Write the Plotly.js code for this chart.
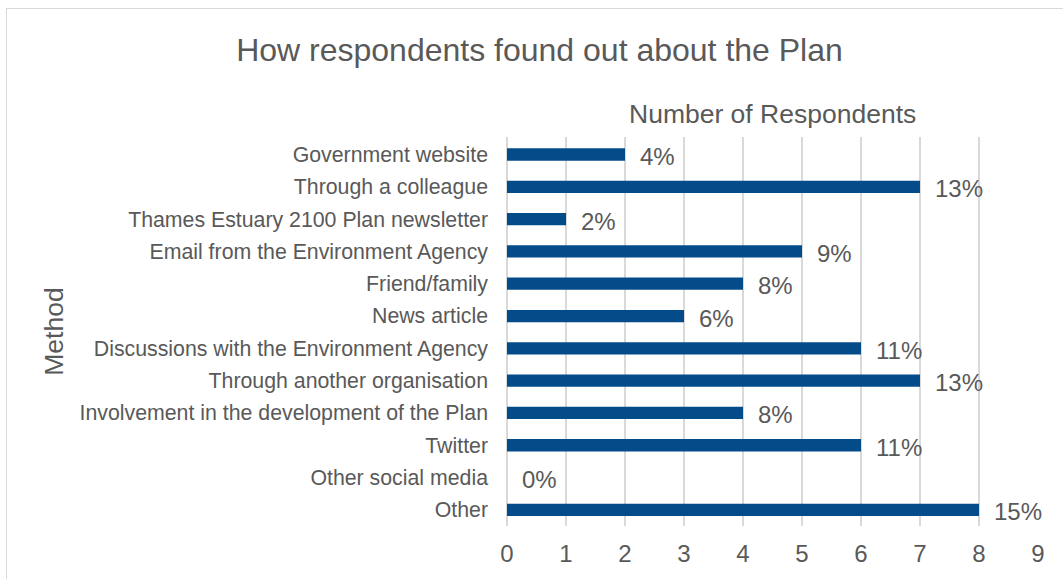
<!DOCTYPE html>
<html>
<head>
<meta charset="utf-8">
<script src="https://cdn.plot.ly/plotly-3.0.1.min.js"></script>
<style>
html,body{margin:0;padding:0;background:#fff;overflow:hidden;}
#frame{position:absolute;left:6px;top:8px;width:2000px;height:2000px;border-left:1px solid #d9d9d9;border-top:1px solid #d9d9d9;pointer-events:none;z-index:5;}
#chart{width:1063px;height:579px;}
</style>
</head>
<body>
<div id="frame"></div>
<div id="chart"></div>
<script>
var categories = [
  "Government website",
  "Through a colleague",
  "Thames Estuary 2100 Plan newsletter",
  "Email from the Environment Agency",
  "Friend/family",
  "News article",
  "Discussions with the Environment Agency",
  "Through another organisation",
  "Involvement in the development of the Plan",
  "Twitter",
  "Other social media",
  "Other"
];
var respondents = [2, 7, 1, 5, 4, 3, 6, 7, 4, 6, 0, 8];
var percentLabels = ["4%", "13%", "2%", "9%", "8%", "6%", "11%", "13%", "8%", "11%", "0%", "15%"];
var xTicks = [0, 1, 2, 3, 4, 5, 6, 7, 8, 9];

var textColor = "#595959";
var fontFamily = "Liberation Sans, Arial, sans-serif";

var trace = {
  type: "bar",
  orientation: "h",
  x: respondents,
  y: categories,
  marker: {color: "#044c89"},
  hoverinfo: "none"
};

var annotations = categories.map(function (c, i) {
  return {
    x: respondents[i], y: c, xref: "x", yref: "y",
    text: percentLabels[i], showarrow: false,
    xanchor: "left", xshift: 13, yshift: -2,
    font: {family: fontFamily, size: 24, color: textColor}
  };
});
annotations.push({
  x: 0.5, y: 1, xref: "paper", yref: "paper", yanchor: "middle", yshift: 23,
  text: "Number of Respondents", showarrow: false,
  font: {family: fontFamily, size: 26.5, color: textColor}
});

var layout = {
  width: 1063, height: 579,
  margin: {l: 507, r: 25, t: 137, b: 53, pad: 0},
  paper_bgcolor: "rgba(0,0,0,0)",
  plot_bgcolor: "#fff",
  showlegend: false,
  bargap: 0.62,
  title: {
    text: "How respondents found out about the Plan",
    x: 0.5075, xanchor: "center", y: 0.914, yanchor: "middle",
    font: {family: fontFamily, size: 32, color: textColor}
  },
  xaxis: {
    range: [0, 9],
    tickvals: xTicks,
    showgrid: true, gridcolor: "#d9d9d9", gridwidth: 2,
    zeroline: true, zerolinecolor: "#d9d9d9", zerolinewidth: 2,
    showline: false, ticks: "",
    ticklabelstandoff: 11,
    tickfont: {family: fontFamily, size: 24, color: textColor},
    fixedrange: true
  },
  yaxis: {
    autorange: "reversed",
    type: "category",
    showgrid: false, zeroline: false, showline: false, ticks: "",
    ticklabelstandoff: 18,
    tickfont: {family: fontFamily, size: 21.3, color: textColor},
    title: {text: "Method", standoff: 8, font: {family: fontFamily, size: 26.5, color: textColor}},
    fixedrange: true
  },
  annotations: annotations
};

Plotly.newPlot("chart", [trace], layout, {displayModeBar: false, staticPlot: true});
</script>
</body>
</html>
